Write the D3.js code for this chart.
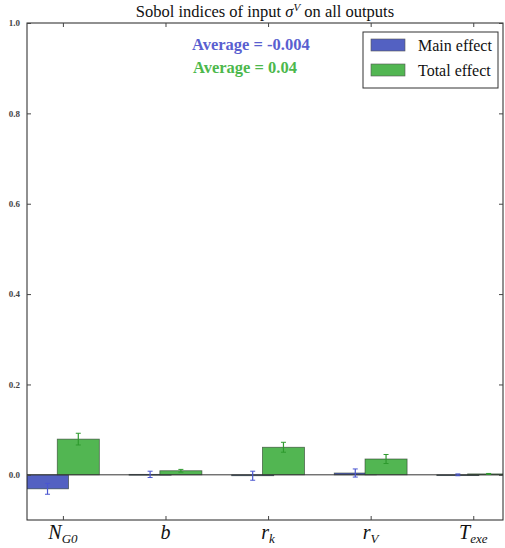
<!DOCTYPE html>
<html><head><meta charset="utf-8">
<script src="https://cdn.jsdelivr.net/npm/d3@7"></script>
<style>body{margin:0;background:#fff}svg{display:block}</style>
</head><body>
<svg id="c" width="505" height="548"></svg>
<script>
const categories = ["N_G0", "b", "r_k", "r_V", "T_exe"];
const mainEffect = [-0.031, 0.001, -0.002, 0.004, 0.0];
const mainErr = [0.012, 0.007, 0.010, 0.009, 0.002];
const totalEffect = [0.079, 0.009, 0.061, 0.035, 0.002];
const totalErr = [0.013, 0.003, 0.011, 0.010, 0.001];
const yTicks = [0.0, 0.2, 0.4, 0.6, 0.8, 1.0];
const seriesNames = ["Main effect", "Total effect"];
const averages = ["Average = -0.004", "Average = 0.04"];

const svg = d3.select("#c");
const L = 27, R = 503, T = 23, B = 520;
const x = d3.scaleLinear().domain([-0.35, 4.29]).range([L, R]);
const y = d3.scaleLinear().domain([-0.1, 1.0]).range([B, T]);
const unit = x(1) - x(0);
const barW = 0.41 * unit;
const off = 0.15 * unit;
const blue = "#5361c2", green = "#52b652";

const defs = svg.append("defs");
defs.append("clipPath").attr("id", "clip").append("rect")
  .attr("x", L).attr("y", T).attr("width", R - L).attr("height", B - T);
const plot = svg.append("g").attr("clip-path", "url(#clip)");

// bars
const series = [
  {vals: mainEffect, err: mainErr, color: blue, errColor: "#4a56d0", dx: -off},
  {vals: totalEffect, err: totalErr, color: green, errColor: "#2e9a2e", dx: off}
];
series.forEach(s => {
  plot.selectAll(null).data(s.vals).enter().append("rect")
    .attr("x", (d, i) => x(i) + s.dx - barW / 2)
    .attr("width", barW)
    .attr("y", d => Math.min(y(d), y(0)))
    .attr("height", d => Math.max(0.8, Math.abs(y(d) - y(0))))
    .attr("fill", s.color).attr("stroke", "#2a3a2a").attr("stroke-width", 0.8)
    .attr("stroke-opacity", 0.7);
});
// zero line
plot.append("line").attr("x1", L).attr("x2", R).attr("y1", y(0)).attr("y2", y(0))
  .attr("stroke", "#333").attr("stroke-width", 1);
// error bars
series.forEach(s => {
  const g = plot.selectAll(null).data(s.vals).enter().append("g");
  g.append("line")
    .attr("x1", (d, i) => x(i) + s.dx).attr("x2", (d, i) => x(i) + s.dx)
    .attr("y1", (d, i) => y(d + s.err[i])).attr("y2", (d, i) => y(d - s.err[i]))
    .attr("stroke", s.errColor).attr("stroke-width", 1.2);
  [1, -1].forEach(sg => {
    g.append("line")
      .attr("x1", (d, i) => x(i) + s.dx - 2.5).attr("x2", (d, i) => x(i) + s.dx + 2.5)
      .attr("y1", (d, i) => y(d + sg * s.err[i])).attr("y2", (d, i) => y(d + sg * s.err[i]))
      .attr("stroke", s.errColor).attr("stroke-width", 1);
  });
});

// frame
svg.append("rect").attr("x", L).attr("y", T).attr("width", R - L).attr("height", B - T)
  .attr("fill", "none").attr("stroke", "#222").attr("stroke-width", 1);

// y axis (ticks inward)
const yAxis = d3.axisLeft(y).tickValues(yTicks).tickFormat(d3.format(".1f")).tickSize(-4).tickPadding(7);
const gy = svg.append("g").attr("transform", `translate(${L},0)`).call(yAxis);
gy.select(".domain").remove();
gy.selectAll("text").attr("font-family", "Liberation Serif, serif").attr("font-size", 9)
  .attr("font-weight", "bold").attr("fill", "#444");
gy.selectAll("line").attr("stroke", "#444");
const yAxisR = d3.axisRight(y).tickValues(yTicks).tickSize(-4).tickFormat("");
const gyr = svg.append("g").attr("transform", `translate(${R},0)`).call(yAxisR);
gyr.select(".domain").remove();
gyr.selectAll("line").attr("stroke", "#444");

// x axis
const xAxis = d3.axisBottom(x).tickValues(d3.range(categories.length)).tickSize(-4).tickFormat("");
const gx = svg.append("g").attr("transform", `translate(0,${B})`).call(xAxis);
gx.select(".domain").remove();
gx.selectAll("line").attr("stroke", "#444");
const xAxisT = d3.axisTop(x).tickValues(d3.range(categories.length)).tickSize(-4).tickFormat("");
const gxt = svg.append("g").attr("transform", `translate(0,${T})`).call(xAxisT);
gxt.select(".domain").remove();
gxt.selectAll("line").attr("stroke", "#444");

// x tick labels (math italic with subscripts)
categories.forEach((c, i) => {
  const [base, sub] = c.split("_");
  const t = svg.append("text").attr("x", x(i)).attr("y", B + 19)
    .attr("text-anchor", "middle").attr("font-family", "Liberation Serif, serif")
    .attr("font-size", 20).attr("font-style", "italic").attr("fill", "#111");
  t.append("tspan").text(base);
  if (sub) t.append("tspan").attr("font-size", 13).attr("dy", 4).text(sub);
});

// title
const title = svg.append("text").attr("x", (L + R) / 2).attr("y", 17).attr("text-anchor", "middle")
  .attr("font-family", "Liberation Serif, serif").attr("font-size", 16.5).attr("fill", "#111");
title.append("tspan").text("Sobol indices of input ");
title.append("tspan").attr("font-style", "italic").text("σ");
title.append("tspan").attr("font-style", "italic").attr("font-size", 11).attr("dy", -6).text("V");
title.append("tspan").attr("dy", 6).text(" on all outputs");

// averages
svg.append("text").attr("x", 192).attr("y", 50).text(averages[0])
  .attr("font-family", "Liberation Serif, serif").attr("font-weight", "bold").attr("font-size", 16.5).attr("fill", "#5a5fd0");
svg.append("text").attr("x", 193).attr("y", 73).text(averages[1])
  .attr("font-family", "Liberation Serif, serif").attr("font-weight", "bold").attr("font-size", 16.5).attr("fill", "#4cb84c");

// legend
const lg = svg.append("g");
lg.append("rect").attr("x", 363).attr("y", 32).attr("width", 135).attr("height", 56)
  .attr("fill", "#fff").attr("stroke", "#333").attr("stroke-width", 1);
[blue, green].forEach((col, i) => {
  lg.append("rect").attr("x", 371).attr("y", 39 + i * 25).attr("width", 34).attr("height", 12)
    .attr("fill", col).attr("stroke", "#555").attr("stroke-width", 0.6);
  lg.append("text").attr("x", 418).attr("y", 51 + i * 25).text(seriesNames[i])
    .attr("font-family", "Liberation Serif, serif").attr("font-size", 16).attr("fill", "#111");
});
</script>
</body></html>
